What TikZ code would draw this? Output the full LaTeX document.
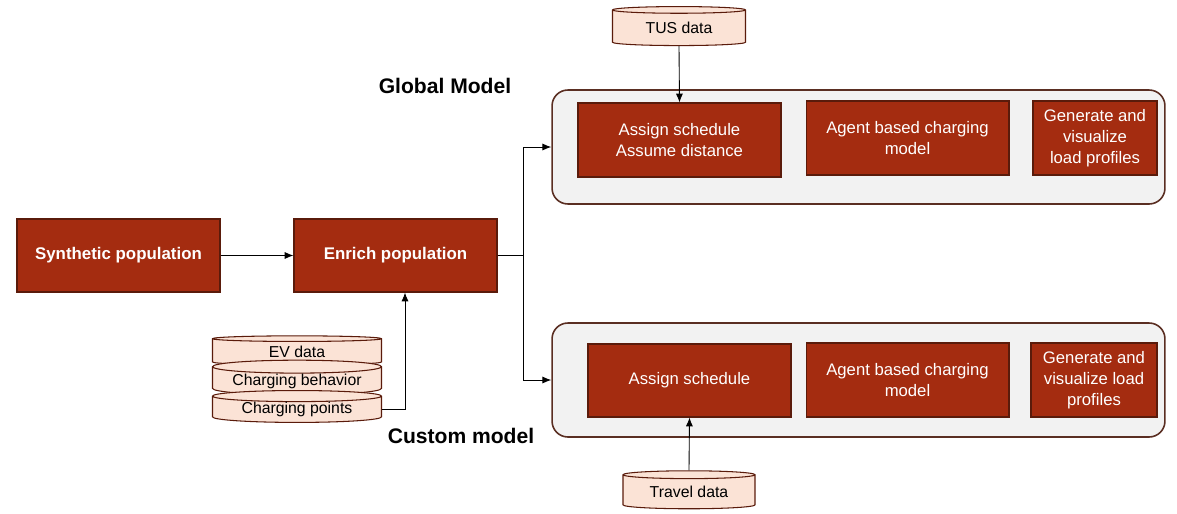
\documentclass[tikz,border=0pt]{standalone}
\usepackage{fontspec}
\setmainfont{Liberation Sans}
\usetikzlibrary{arrows.meta, shapes.geometric, positioning}

\definecolor{boxfill}{HTML}{A42C10}
\definecolor{boxedge}{HTML}{5A1B0B}
\definecolor{datafill}{HTML}{FBE3D6}
\definecolor{framefill}{HTML}{F2F2F2}
\definecolor{frameedge}{HTML}{5A2E22}

\tikzset{
  stepbox/.style={rectangle, draw=boxedge, line width=0.6pt, fill=boxfill,
                  text=white, align=center, inner sep=0pt,
                  font=\fontsize{9.5}{12}\selectfont},
  mainbox/.style={stepbox, minimum width=4.06cm, minimum height=1.46cm,
                  font=\fontsize{9.6}{12}\selectfont\bfseries},
  modelframe/.style={rectangle, rounded corners=9pt, draw=frameedge,
                  line width=0.9pt, fill=framefill,
                  minimum width=12.26cm, minimum height=2.28cm},
  datadisk/.style={cylinder, shape border rotate=90, aspect=0.1,
                  draw=boxedge, line width=0.6pt, fill=datafill, inner sep=0pt,
                  font=\fontsize{9}{11}\selectfont},
  modeltitle/.style={font=\fontsize{12}{14}\selectfont\bfseries},
  flow/.style={-{Latex[length=5pt,width=4pt]}, line width=0.5pt}
}

\begin{document}
\begin{tikzpicture}[x=0.02cm, y=-0.02cm]
  \useasboundingbox (0,0) rectangle (1177,514);

  % population steps
  \node[mainbox] (synth) at (118.5,255.5) {Synthetic population};
  \node[mainbox] (enrich) at (395.5,255.5) {Enrich population};

  % model frames
  \node[modelframe] (global) at (858.5,147) {};
  \node[modelframe] (custom) at (858.5,380) {};
  \node[modeltitle] (globaltitle) at (445,86) {Global Model};
  \node[modeltitle] (customtitle) at (461,436) {Custom model};

  % global model steps
  \node[stepbox, minimum width=4.06cm, minimum height=1.48cm] (gsched) at (679.5,140)
       {Assign schedule\\Assume distance};
  \node[stepbox, minimum width=4.06cm, minimum height=1.48cm] (gagent) at (907.5,138)
       {Agent based charging\\model};
  \node[stepbox, minimum width=2.48cm, minimum height=1.48cm] (gload) at (1095,138)
       {Generate and\\visualize\\load profiles};

  % custom model steps
  \node[stepbox, minimum width=4.06cm, minimum height=1.46cm] (csched) at (689.5,380.5)
       {Assign schedule};
  \node[stepbox, minimum width=4.06cm, minimum height=1.48cm] (cagent) at (907.5,380)
       {Agent based charging\\model};
  \node[stepbox, minimum width=2.52cm, minimum height=1.48cm] (cload) at (1094,380)
       {Generate and\\visualize load\\profiles};

  % data sources
  \node[datadisk, minimum width=2.66cm, minimum height=0.78cm] (tus) at (679,28) {TUS data};
  \node[datadisk, minimum width=2.64cm, minimum height=0.76cm] (travel) at (689,492) {Travel data};
  \node[datadisk, minimum width=3.38cm, minimum height=0.58cm] (evdata) at (297,352) {EV data};
  \node[datadisk, minimum width=3.38cm, minimum height=0.58cm] (behavior) at (297,381) {Charging behavior};
  \node[datadisk, minimum width=3.38cm, minimum height=0.58cm] (points) at (297,409.5) {Charging points};

  % connectors
  \coordinate (split) at (523,255.5);
  \draw[flow] (synth) -- (enrich);
  \draw (enrich.east) -- (split);
  \draw[flow] (split) |- (global.west);
  \draw[flow] (split) |- (custom.west);
  \draw[flow] (points.east) -| (enrich.south -| 405,0);
  \draw[flow] (tus.south) -- (gsched.north);
  \draw[flow] (travel.north) -- (csched.south);
\end{tikzpicture}
\end{document}
